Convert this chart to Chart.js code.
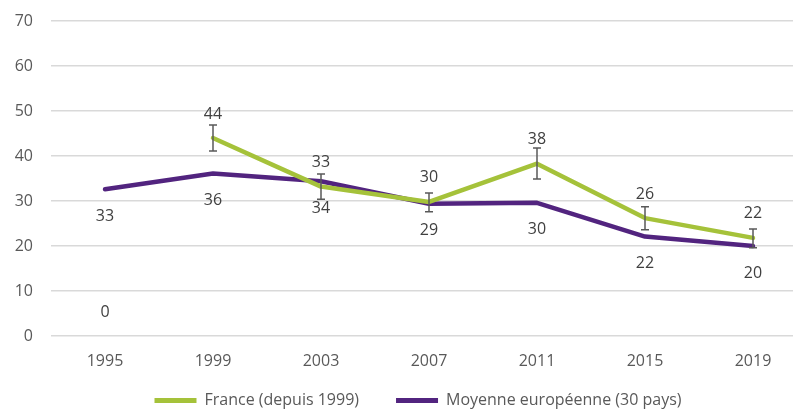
<!DOCTYPE html>
<html>
<head>
<meta charset="utf-8">
<script src="https://cdn.jsdelivr.net/npm/chart.js@4"></script>
<style>
  html, body { margin: 0; padding: 0; overflow: hidden; background: #fff; }
  #wrap { width: 810px; height: 410px; }
</style>
</head>
<body>
<div id="wrap"><canvas id="trendChart" width="810" height="410"></canvas></div>
<script>
// --- data ---
const years = ['1995', '1999', '2003', '2007', '2011', '2015', '2019'];
const franceValues = [0, 44, 33.2, 29.8, 38.3, 26.2, 21.8];
const franceLow = [null, 41.1, 30.4, 27.6, 34.9, 23.6, 19.6];
const franceHigh = [null, 46.9, 36.0, 31.8, 41.8, 28.7, 23.8];
const europeValues = [32.6, 36.1, 34.4, 29.4, 29.6, 22.1, 20.0];
const yTicks = [0, 10, 20, 30, 40, 50, 60, 70];

const green = '#a5c23a';
const purple = '#52247f';
const tickColor = '#595959';
const labelColor = '#404040';
const font = 'Open Sans';

// error bars + value labels, drawn through the chart's scales
const annotate = {
    id: 'annotate',
    afterLayout(chart) {
        // nudge legend to sit where the original one is
        const lg = chart.legend;
        lg.left += 29;
        lg.top -= 16.5;
        lg.bottom = chart.height;
    },
    afterDatasetsDraw(chart) {
        const ctx = chart.ctx;
        const x = chart.scales.x;
        const y = chart.scales.y;
        ctx.save();
        // error bars for France
        ctx.strokeStyle = '#595959';
        ctx.lineWidth = 1.5;
        years.forEach((yr, i) => {
            if (franceLow[i] == null) return;
            const px = x.getPixelForValue(i);
            const top = y.getPixelForValue(franceHigh[i]);
            const bot = y.getPixelForValue(franceLow[i]);
            ctx.beginPath();
            ctx.moveTo(px, top); ctx.lineTo(px, bot);
            ctx.moveTo(px - 4, top); ctx.lineTo(px + 4, top);
            ctx.moveTo(px - 4, bot); ctx.lineTo(px + 4, bot);
            ctx.stroke();
        });
        // labels
        ctx.font = '16px "' + font + '"';
        ctx.fillStyle = labelColor;
        ctx.textAlign = 'center';
        ctx.textBaseline = 'middle';
        years.forEach((yr, i) => {
            const px = x.getPixelForValue(i);
            ctx.fillText(Math.round(franceValues[i]), px, y.getPixelForValue(franceValues[i]) - 24);
            ctx.fillText(Math.round(europeValues[i]), px, y.getPixelForValue(europeValues[i]) + 27);
        });
        ctx.restore();
    }
};

new Chart(document.getElementById('trendChart'), {
    type: 'line',
    data: {
        labels: years,
        datasets: [
            {
                label: 'France (depuis 1999)',
                data: franceValues,
                borderColor: green,
                backgroundColor: green,
                borderWidth: 4.5,
                pointRadius: 0,
                borderJoinStyle: 'round',
                borderCapStyle: 'round',
                segment: {
                    borderColor: c => c.p0DataIndex === 0 ? 'rgba(0,0,0,0)' : green
                }
            },
            {
                label: 'Moyenne européenne (30 pays)',
                data: europeValues,
                borderColor: purple,
                backgroundColor: purple,
                borderWidth: 4.5,
                pointRadius: 0,
                borderJoinStyle: 'round',
                borderCapStyle: 'round'
            }
        ]
    },
    options: {
        responsive: false,
        animation: false,
        layout: { padding: { top: 21, left: 0, right: 3, bottom: 0 } },
        plugins: {
            tooltip: { enabled: false },
            legend: {
                position: 'bottom',
                maxHeight: 38,
                labels: {
                    color: tickColor,
                    font: { family: font, size: 16 },
                    boxWidth: 42,
                    boxHeight: 5,
                    padding: 37,
                    generateLabels(chart) {
                        return chart.data.datasets.map((ds, i) => ({
                            text: ds.label,
                            fillStyle: ds.borderColor,
                            strokeStyle: ds.borderColor,
                            lineWidth: 0,
                            fontColor: tickColor,
                            datasetIndex: i
                        }));
                    }
                }
            }
        },
        scales: {
            x: {
                offset: true,
                grid: { display: false },
                border: { display: false },
                ticks: { color: tickColor, font: { family: font, size: 16 }, padding: 8 },
                afterFit(scale) { scale.height = 36; }
            },
            y: {
                min: 0,
                max: 70,
                afterBuildTicks(scale) { scale.ticks = yTicks.map(v => ({ value: v })); },
                grid: { color: '#d9d9d9', lineWidth: 1.5, drawTicks: false },
                border: { display: false },
                ticks: { color: tickColor, font: { family: font, size: 16 }, padding: 18 },
                afterFit(scale) {
                    scale.width = 51;
                    scale.paddingTop = 10;
                    scale.paddingBottom = 10;
                }
            }
        }
    },
    plugins: [annotate]
});
</script>
</body>
</html>
